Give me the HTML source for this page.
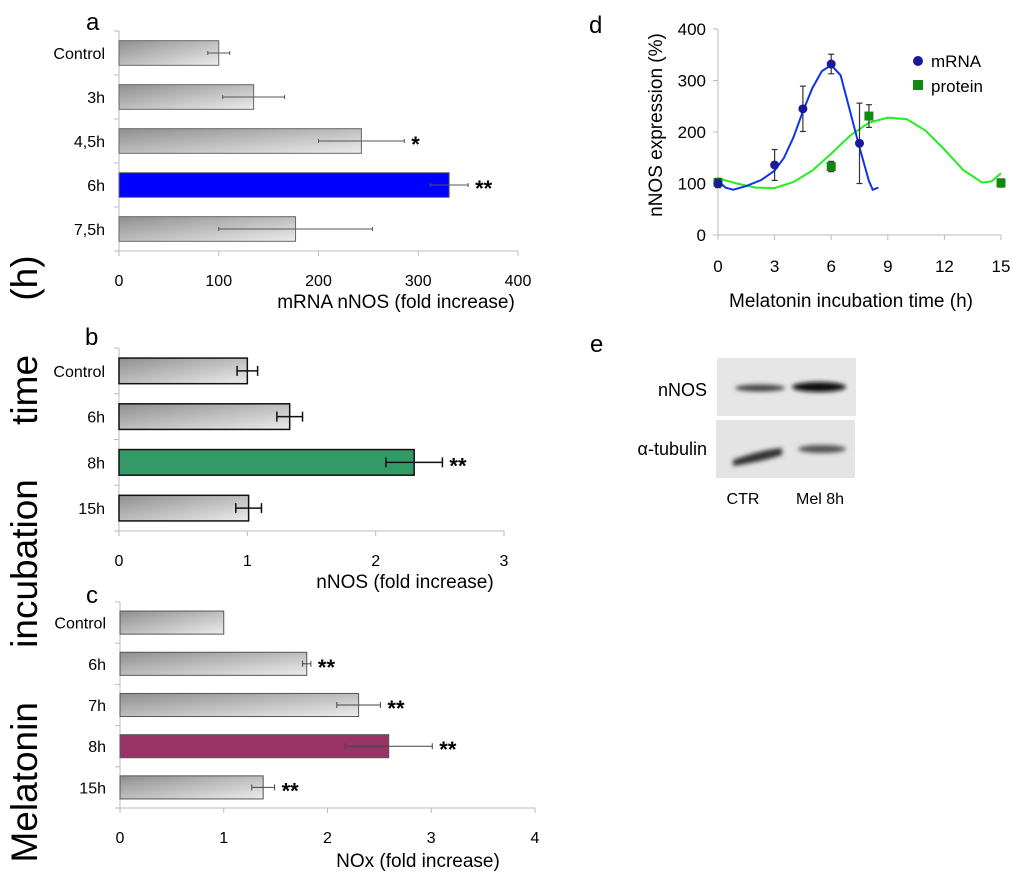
<!DOCTYPE html>
<html><head><meta charset="utf-8"><style>
html,body{margin:0;padding:0;background:#fff;}
svg{display:block;font-family:"Liberation Sans",Arial,sans-serif;}
</style></head><body>
<svg id="fig" width="1024" height="886" viewBox="0 0 1024 886" xmlns="http://www.w3.org/2000/svg">
<defs>
<linearGradient id="gbar" x1="0" y1="0" x2="1" y2="1">
<stop offset="0" stop-color="#8f8f8f"/><stop offset="1" stop-color="#ececec"/></linearGradient>
<filter id="blur"><feGaussianBlur stdDeviation="2.2"/></filter>
</defs>
<text x="37" y="559" font-size="37" text-anchor="middle" word-spacing="44" transform="rotate(-90 37 559)">Melatonin incubation time (h)</text>
<g id="pa"></g><g id="pb"></g><g id="pc"></g><g id="pd"></g>
<g>
<text x="590" y="352" font-size="24">e</text>
<rect x="717" y="358" width="139" height="58" fill="#e6e6e6"/>
<rect x="716" y="420" width="139" height="58" fill="#e4e4e4"/>
<g filter="url(#blur)">
<ellipse cx="760" cy="388" rx="25" ry="3.5" fill="#444"/>
<ellipse cx="819" cy="387" rx="27" ry="5" fill="#111"/>
<path d="M733 460 Q760 450 782 448 L782 455 Q760 462 733 466Z" fill="#333"/>
<ellipse cx="822" cy="449" rx="24" ry="4" fill="#555"/>
</g>
<text x="707" y="396" font-size="18" text-anchor="end">nNOS</text>
<text x="707" y="455" font-size="18" text-anchor="end">α-tubulin</text>
<text x="743" y="504" font-size="16" text-anchor="middle">CTR</text>
<text x="820" y="504" font-size="16" text-anchor="middle">Mel 8h</text>
</g>
</svg>
<script>
// ---- panel a data
const aCats=["Control","3h","4,5h","6h","7,5h"];
const aVals=[100,135,243,331,177];
const aErr=[11,31,43,19,77];
const aSig=["","","*","**",""];
const aTicks=[0,100,200,300,400];
// ---- panel b data
const bCats=["Control","6h","8h","15h"];
const bVals=[1.0,1.33,2.3,1.01];
const bErr=[0.08,0.1,0.22,0.1];
const bSig=["","","**",""];
const bTicks=[0,1,2,3];
// ---- panel c data
const cCats=["Control","6h","7h","8h","15h"];
const cVals=[1.0,1.8,2.3,2.59,1.38];
const cErr=[0,0.04,0.21,0.42,0.11];
const cSig=["","**","**","**","**"];
const cTicks=[0,1,2,3,4];
// ---- panel d data
const dTimesM=[0,3,4.5,6,7.5];
const dMrna=[100,136,245,332,178];
const dMrnaErr=[8,30,44,19,78];
const dTimesP=[0,6,8,15];
const dProt=[102,133,231,101];
const dProtErr=[8,10,22,8];
const dFitMx=[0,0.4,0.8,1.5,2.3,3,3.5,4,4.5,5,5.5,6,6.5,7,7.5,8,8.2,8.5];
const dFitMy=[105,92,88,95,107,125,150,190,240,285,318,330,310,240,170,105,88,92];
const dFitPx=[0,1,2,3,4,5,6,7,8,9,10,11,12,13,14,14.5,15];
const dFitPy=[110,100,92,91,103,125,158,193,218,228,225,203,166,126,102,104,120];
const dXTicks=[0,3,6,9,12,15];
const dYTicks=[0,100,200,300,400];

const NS="http://www.w3.org/2000/svg";
function mk(parent,tag,attrs,text){const e=document.createElementNS(NS,tag);for(const k in attrs)e.setAttribute(k,attrs[k]);if(text!==undefined)e.textContent=text;parent.appendChild(e);return e;}

function barPanel(gid,letter,cats,vals,errs,sig,ticks,cfg){
  const g=document.getElementById(gid);
  
  
  const xmax=ticks[ticks.length-1];
  const X=v=>cfg.x0+(cfg.x1-cfg.x0)*v/xmax;
  const n=cats.length, slot=(cfg.yb-cfg.yt)/n;
  const lab=mk(g,'text',{x:cfg.lx,y:cfg.ly,'font-size':24},letter);
  
  
  mk(g,'line',{x1:cfg.x0,y1:cfg.yt,x2:cfg.x0,y2:cfg.yb,stroke:'#bbb'});
  mk(g,'line',{x1:cfg.x0-5,y1:cfg.yb,x2:cfg.x1,y2:cfg.yb,stroke:'#bbb'});
  for(let i=0;i<=n;i++){mk(g,'line',{x1:cfg.x0-5,y1:cfg.yt+slot*i,x2:cfg.x0,y2:cfg.yt+slot*i,stroke:'#bbb'});}
  ticks.forEach(t=>{
    mk(g,'line',{x1:X(t),y1:cfg.yb,x2:X(t),y2:cfg.yb+5,stroke:'#bbb'});
    const tx=mk(g,'text',{x:X(t),y:cfg.yb+35,'font-size':16,'text-anchor':'middle'},String(t));
    
    
  });
  const tt=mk(g,'text',{x:cfg.tx,y:cfg.ty,'font-size':19,'text-anchor':'middle','xml:space':'preserve'},cfg.title);
  
  
  const bh=slot*0.56;
  cats.forEach((c,i)=>{
    const cy=cfg.yt+slot*(i+0.5);
    const cl=mk(g,'text',{x:cfg.x0-14,y:cy+6,'font-size':16,'text-anchor':'end'},c);
    
    
    const fill=(cfg.hi===i)?cfg.hiColor:'url(#gbar)';
    const r=mk(g,'rect',{x:cfg.x0,y:cy-bh/2,width:X(vals[i])-cfg.x0,height:bh,fill:fill,stroke:cfg.stroke,'stroke-width':cfg.sw});
    
    
    if(errs[i]>0){
      const e1=X(vals[i]-errs[i]),e2=X(vals[i]+errs[i]);
      mk(g,'line',{x1:e1,y1:cy,x2:e2,y2:cy,stroke:cfg.ec,'stroke-width':cfg.ew});
      mk(g,'line',{x1:e1,y1:cy-cfg.cap,x2:e1,y2:cy+cfg.cap,stroke:cfg.ec,'stroke-width':cfg.ew});
      mk(g,'line',{x1:e2,y1:cy-cfg.cap,x2:e2,y2:cy+cfg.cap,stroke:cfg.ec,'stroke-width':cfg.ew});
    }
    if(sig[i]){
      const s=mk(g,'text',{x:X(vals[i]+errs[i])+7,y:cy+11,'font-size':22,'font-weight':'bold'},sig[i]);
      
      
    }
  });
}
barPanel('pa','a',aCats,aVals,aErr,aSig,aTicks,{x0:119,x1:518,yt:31,yb:251,lx:86,ly:30,tx:396,ty:308,title:'mRNA  nNOS (fold increase)',hi:3,hiColor:'#0000ff',stroke:'#666',sw:1,ec:'#555',ew:1,cap:2});
barPanel('pb','b',bCats,bVals,bErr,bSig,bTicks,{x0:119,x1:504,yt:348,yb:531,lx:85,ly:345,tx:405,ty:588,title:'nNOS  (fold increase)',hi:2,hiColor:'#339966',stroke:'#111',sw:1.5,ec:'#111',ew:1.5,cap:5});
barPanel('pc','c',cCats,cVals,cErr,cSig,cTicks,{x0:120,x1:535,yt:602,yb:808,lx:86,ly:603,tx:418,ty:867,title:'NOx (fold increase)',hi:3,hiColor:'#993366',stroke:'#555',sw:1,ec:'#444',ew:1,cap:3});

// panel d
(function(){
  const g=document.getElementById('pd');
  
  
  const x0=718,x1=1001,y0=235,y1=29;
  const X=v=>x0+(x1-x0)*v/15, Y=v=>y0+(y1-y0)*v/400;
  const lab=mk(g,'text',{x:589,y:33,'font-size':24},'d');
  
  
  mk(g,'line',{x1:x0,y1:Y(400),x2:x0,y2:y0,stroke:'#bbb'});
  mk(g,'line',{x1:x0,y1:y0,x2:x1,y2:y0,stroke:'#bbb'});
  dYTicks.forEach(t=>{
    mk(g,'line',{x1:x0-5,y1:Y(t),x2:x0,y2:Y(t),stroke:'#bbb'});
    const tx=mk(g,'text',{x:x0-12,y:Y(t)+6,'font-size':17,'text-anchor':'end'},String(t));
    
    
  });
  dXTicks.forEach(t=>{
    mk(g,'line',{x1:X(t),y1:y0,x2:X(t),y2:y0+5,stroke:'#bbb'});
    const tx=mk(g,'text',{x:X(t),y:272,'font-size':17,'text-anchor':'middle'},String(t));
    
    
  });
  const yt=mk(g,'text',{x:662,y:125,'font-size':19,'text-anchor':'middle',transform:'rotate(-90 662 125)'},'nNOS expression (%)');
  
  
  const xt=mk(g,'text',{x:851,y:307,'font-size':19,'text-anchor':'middle'},'Melatonin incubation time (h)');
  
  
  const pl=(xs,ys)=>xs.map((x,i)=>(i?'L':'M')+X(x).toFixed(1)+' '+Y(ys[i]).toFixed(1)).join(' ');
  const lg=mk(g,'path',{d:pl(dFitPx,dFitPy),fill:'none',stroke:'#22ee22','stroke-width':2});
  
  
  const lb=mk(g,'path',{d:pl(dFitMx,dFitMy),fill:'none',stroke:'#1133ee','stroke-width':2});
  
  
  function err(x,v,e){
    mk(g,'line',{x1:X(x),y1:Y(v-e),x2:X(x),y2:Y(v+e),stroke:'#333','stroke-width':1.2});
    mk(g,'line',{x1:X(x)-3,y1:Y(v-e),x2:X(x)+3,y2:Y(v-e),stroke:'#333','stroke-width':1.2});
    mk(g,'line',{x1:X(x)-3,y1:Y(v+e),x2:X(x)+3,y2:Y(v+e),stroke:'#333','stroke-width':1.2});
  }
  dTimesP.forEach((t,i)=>{
    err(t,dProt[i],dProtErr[i]);
    const m=mk(g,'rect',{x:X(t)-4.5,y:Y(dProt[i])-4.5,width:9,height:9,fill:'#118811'});
    
    
  });
  dTimesM.forEach((t,i)=>{
    err(t,dMrna[i],dMrnaErr[i]);
    const m=mk(g,'circle',{cx:X(t),cy:Y(dMrna[i]),r:4.5,fill:'#1a1a99'});
    
    
  });
  const lm=mk(g,'circle',{cx:918,cy:61,r:5,fill:'#1a1a99'});
  
  
  const l1=mk(g,'text',{x:931,y:67,'font-size':17},'mRNA');
  
  
  const lp=mk(g,'rect',{x:913,y:80,width:10,height:10,fill:'#118811'});
  
  
  const l2=mk(g,'text',{x:931,y:92,'font-size':17},'protein');
  
  
})();
</script>
</body></html>
